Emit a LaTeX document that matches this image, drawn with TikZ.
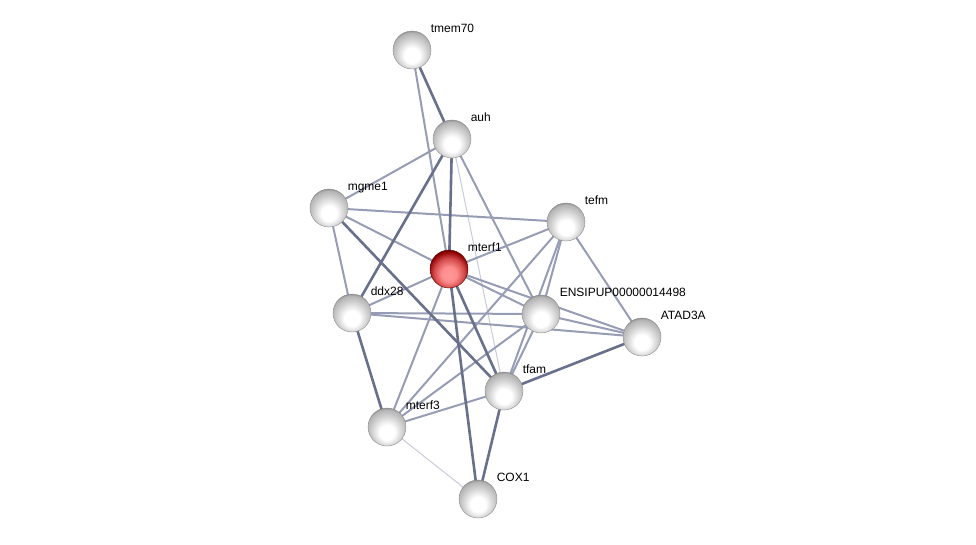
\documentclass[tikz,border=0pt]{standalone}
\usepackage{fontspec}
\setmainfont{Liberation Sans}
\usetikzlibrary{backgrounds}

\definecolor{edgedark}{RGB}{104,112,140}
\definecolor{edgemid}{RGB}{150,156,180}
\definecolor{edgelight}{RGB}{200,203,216}

% glassy ball look
\pgfdeclareradialshading{glossy}{\pgfpoint{0bp}{-9bp}}{%
  color(0bp)=(white); color(10bp)=(white); color(20bp)=(black!18);
  color(27bp)=(black!30); color(31bp)=(black!55); color(50bp)=(black!55)}
\pgfdeclareradialshading{glossyred}{\pgfpoint{0bp}{-9bp}}{%
  color(0bp)=(red!40!white); color(10bp)=(red!45!white); color(20bp)=(red!60!gray!90);
  color(27bp)=(red!55!black); color(31bp)=(red!35!black); color(50bp)=(red!35!black)}

\begin{document}
\begin{tikzpicture}
  [x=1pt,y=-1pt,
   prot/.style={circle,minimum size=38pt,inner sep=0pt,draw=black!45,
     shading=glossy,
     label={[anchor=base west,inner sep=0pt,label distance=0pt,xshift=5pt,yshift=3.5pt,
       font=\fontsize{12}{14}\selectfont]45:#1}}]
  \useasboundingbox (0,0) rectangle (976,544);

  \node[prot=tmem70] (tmem70) at (412,50) {};
  \node[prot=auh] (auh) at (452,139) {};
  \node[prot=mgme1] (mgme1) at (329,208) {};
  \node[prot=tefm] (tefm) at (566,222) {};
  \node[prot=mterf1,shading=glossyred,draw=red!35!black] (mterf1) at (449,269) {};
  \node[prot=ddx28] (ddx28) at (352,313) {};
  \node[prot=ENSIPUP00000014498] (ensip) at (541,314) {};
  \node[prot=ATAD3A] (atad3a) at (642,337) {};
  \node[prot=tfam] (tfam) at (504,391) {};
  \node[prot=mterf3] (mterf3) at (387,427) {};
  \node[prot=COX1] (cox1) at (478,499) {};

  \begin{scope}[on background layer]
  % weak links
  \foreach \from/\to in {auh/tfam,mterf3/cox1}
    \draw[edgelight,line width=1pt] (\from.center) -- (\to.center);

  % medium links
  \foreach \from/\to in {tmem70/mterf1,auh/mgme1,auh/ensip,mgme1/tefm,mgme1/mterf1,
      mgme1/ddx28,tefm/mterf1,tefm/ensip,tefm/tfam,tefm/atad3a,tefm/mterf3,
      mterf1/ddx28,mterf1/ensip,mterf1/atad3a,mterf1/mterf3,ddx28/ensip,
      ddx28/atad3a,ensip/atad3a,ensip/tfam,ensip/mterf3,tfam/mterf3}
    \draw[edgemid,line width=2pt] (\from.center) -- (\to.center);

  % strong links
  \foreach \from/\to in {tmem70/auh,auh/mterf1,auh/ddx28,mgme1/tfam,mterf1/tfam,
      mterf1/cox1,tfam/cox1,ddx28/mterf3,tfam/atad3a}
    \draw[edgedark,line width=2.6pt] (\from.center) -- (\to.center);
  \end{scope}
\end{tikzpicture}
\end{document}
